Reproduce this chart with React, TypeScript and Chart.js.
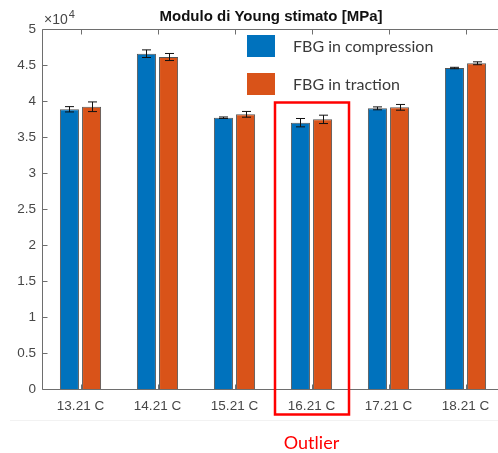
import React, { useEffect, useRef } from "react";
import { Chart, registerables } from "chart.js";

Chart.register(...registerables);

const categories = ["13.21 C", "14.21 C", "15.21 C", "16.21 C", "17.21 C", "18.21 C"];
const compressionValues = [38850, 46570, 37680, 36990, 38980, 44580];
const compressionErrors = [370, 530, 100, 580, 200, 100];
const tractionValues = [39200, 46110, 38150, 37450, 39120, 45240];
const tractionErrors = [670, 490, 400, 580, 400, 200];
const seriesLabels = ["FBG in compression", "FBG in traction"];
const titleText = "Modulo di Young stimato [MPa]";
const exponentBase = "\u00d710";
const exponentPower = "4";
const outlierIndex = 3;
const outlierText = "Outlier";

const BLUE = "#0072BD";
const ORANGE = "#D95319";
const AXIS = "#6e6e6e";
const TEXT = "#474747";

const decorPlugin = {
  id: "decor",
  afterDatasetsDraw(chart: any) {
    const ctx = chart.ctx;
    const ys = chart.scales.y;
    const errs = [compressionErrors, tractionErrors];
    ctx.save();
    ctx.strokeStyle = "#111";
    ctx.lineWidth = 1;
    chart.data.datasets.forEach((ds: any, di: number) => {
      const meta = chart.getDatasetMeta(di);
      meta.data.forEach((bar: any, i: number) => {
        const v = ds.data[i];
        const e = errs[di][i];
        const x = Math.round(bar.x) + 0.5;
        const yTop = ys.getPixelForValue(v + e);
        const yBot = ys.getPixelForValue(v - e);
        ctx.beginPath();
        ctx.moveTo(x, yTop);
        ctx.lineTo(x, yBot);
        ctx.moveTo(x - 4.5, yTop);
        ctx.lineTo(x + 4.5, yTop);
        ctx.moveTo(x - 4.5, yBot);
        ctx.lineTo(x + 4.5, yBot);
        ctx.stroke();
      });
    });
    ctx.restore();
  },
  afterDraw(chart: any) {
    const ctx = chart.ctx;
    const xs = chart.scales.x;
    const ys = chart.scales.y;
    const a = chart.chartArea;
    ctx.save();
    ctx.strokeStyle = AXIS;
    ctx.lineWidth = 1;
    const L = Math.round(a.left) + 0.5;
    const R = Math.round(a.right) - 0.5;
    const T = Math.round(a.top) + 0.5;
    const B = Math.round(a.bottom) + 0.5;
    ctx.beginPath();
    ctx.moveTo(L, T);
    ctx.lineTo(R, T);
    ctx.lineTo(R, B);
    ctx.lineTo(L, B);
    ctx.closePath();
    ctx.stroke();
    const tl = 5;
    ctx.beginPath();
    ys.ticks.forEach((t: any) => {
      const y = Math.round(ys.getPixelForValue(t.value)) + 0.5;
      ctx.moveTo(L, y);
      ctx.lineTo(L + tl, y);
      ctx.moveTo(R, y);
      ctx.lineTo(R - tl, y);
    });
    xs.ticks.forEach((t: any, i: number) => {
      const x = Math.round(xs.getPixelForTick(i)) + 0.5;
      ctx.moveTo(x, T);
      ctx.lineTo(x, T + tl);
      ctx.moveTo(x, B);
      ctx.lineTo(x, B - tl);
    });
    ctx.stroke();

    ctx.fillStyle = "#111";
    ctx.font = "bold 15px 'Liberation Sans', Arial, sans-serif";
    ctx.textAlign = "center";
    ctx.textBaseline = "alphabetic";
    ctx.fillText(titleText, (a.left + a.right) / 2 - 2, 21);

    ctx.fillStyle = TEXT;
    ctx.textAlign = "left";
    ctx.font = "14px 'Liberation Sans', Arial, sans-serif";
    ctx.fillText(exponentBase, a.left + 2, 24);
    const w = ctx.measureText(exponentBase).width;
    ctx.font = "11px 'Liberation Sans', Arial, sans-serif";
    ctx.fillText(exponentPower, a.left + 2 + w + 1, 18);

    const colors = [BLUE, ORANGE];
    const rows = [46, 84];
    chart.data.datasets.forEach((ds: any, di: number) => {
      const cy = rows[di];
      ctx.fillStyle = colors[di];
      ctx.fillRect(247, cy - 11, 28, 22);
      ctx.fillStyle = "#3a3a3a";
      ctx.font = "16px Lato, 'Open Sans', sans-serif";
      ctx.textBaseline = "middle";
      ctx.fillText(ds.label, 293, cy + 1);
    });

    const cx = xs.getPixelForTick(outlierIndex);
    ctx.strokeStyle = "#ff0000";
    ctx.lineWidth = 2.5;
    ctx.strokeRect(cx - 36.5, 102.5, 74, 312);
    ctx.fillStyle = "#ff0000";
    ctx.font = "18px Lato, 'Open Sans', sans-serif";
    ctx.textAlign = "center";
    ctx.textBaseline = "middle";
    ctx.fillText(outlierText, cx, 443);

    ctx.strokeStyle = "#f2f2f2";
    ctx.lineWidth = 1;
    ctx.beginPath();
    ctx.moveTo(10, 420.5);
    ctx.lineTo(520, 420.5);
    ctx.stroke();
    ctx.restore();
  },
};

export default function App() {
  const ref = useRef<HTMLCanvasElement | null>(null);
  useEffect(() => {
    if (!ref.current) return;
    const chart = new Chart(ref.current, {
      type: "bar",
      data: {
        labels: categories,
        datasets: [
          {
            label: seriesLabels[0],
            data: compressionValues,
            backgroundColor: BLUE,
            borderColor: "rgba(30,30,30,0.75)",
            borderWidth: 1,
          },
          {
            label: seriesLabels[1],
            data: tractionValues,
            backgroundColor: ORANGE,
            borderColor: "rgba(30,30,30,0.75)",
            borderWidth: 1,
          },
        ],
      },
      options: {
        animation: false,
        responsive: false,
        maintainAspectRatio: false,
        layout: { padding: { top: 29, right: 16, left: 0, bottom: 0 } },
        datasets: { bar: { categoryPercentage: 0.575, barPercentage: 0.86 } },
        plugins: {
          legend: { display: false },
          title: { display: false },
          tooltip: { enabled: false },
        },
        scales: {
          x: {
            offset: true,
            grid: { display: false, drawTicks: false },
            border: { display: false },
            ticks: {
              color: TEXT,
              padding: 9,
              font: { family: "'Liberation Sans', Arial, sans-serif", size: 13.5 },
            },
            afterFit: (s: any) => {
              s.height = 64;
            },
          },
          y: {
            min: 0,
            max: 50000,
            grid: { display: false, drawTicks: false },
            border: { display: false },
            ticks: {
              stepSize: 5000,
              color: TEXT,
              padding: 6,
              font: { family: "'Liberation Sans', Arial, sans-serif", size: 13.5 },
              callback: (v: any) => String(Number(v) / 10000),
            },
            afterFit: (s: any) => {
              s.width = 42;
            },
          },
        },
      },
      plugins: [decorPlugin],
    });
    return () => chart.destroy();
  }, []);
  return (
    <div
      style={{
        position: "fixed",
        left: 0,
        top: 0,
        width: 498,
        height: 453,
        overflow: "hidden",
        background: "#fff",
      }}
    >
      <canvas ref={ref} width={520} height={453} style={{ display: "block" }} />
    </div>
  );
}
